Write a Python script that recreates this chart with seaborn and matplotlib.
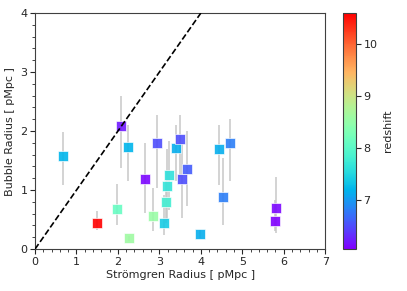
import numpy as np
import pandas as pd
import matplotlib
matplotlib.use("Agg")
import matplotlib.pyplot as plt
from matplotlib.ticker import MultipleLocator, FormatStrFormatter
import seaborn as sns

stromgren = [0.68, 2.07, 2.25, 1.97, 1.50, 2.26, 2.66, 2.84, 2.94, 3.12, 3.16, 3.18,
             3.23, 3.40, 3.49, 3.54, 3.67, 3.98, 4.43, 4.53, 4.71, 5.81, 5.79]
bubble = [1.57, 2.08, 1.73, 0.68, 0.44, 0.18, 1.19, 0.56, 1.79, 0.44, 0.79, 1.07,
          1.25, 1.72, 1.86, 1.18, 1.36, 0.25, 1.69, 0.88, 1.79, 0.69, 0.48]
bubble_hi = [1.99, 2.59, 2.11, 1.10, 0.65, 0.22, 1.80, 1.03, 2.28, 0.92, 1.15, 1.70,
             1.83, 2.11, 2.28, 1.80, 2.00, 0.32, 2.11, 1.54, 2.21, 1.23, 0.84]
bubble_lo = [1.09, 1.37, 1.15, 0.40, 0.32, 0.14, 0.61, 0.30, 1.03, 0.24, 0.45, 0.50,
             0.67, 1.15, 1.23, 0.53, 0.73, 0.18, 1.09, 0.41, 1.15, 0.27, 0.30]
redshift = [7.2, 6.2, 7.2, 8.1, 10.6, 8.6, 6.1, 8.55, 6.5, 7.4, 7.8, 7.65,
            7.6, 7.15, 6.5, 6.5, 6.6, 7.15, 7.15, 6.8, 6.8, 6.1, 6.05]

df = pd.DataFrame({"x": stromgren, "y": bubble, "z": redshift,
                   "lo": bubble_lo, "hi": bubble_hi})

sns.set_style("ticks")
plt.rcParams['font.family'] = ['DejaVu Sans']

fig = plt.figure(figsize=(4.07, 2.91), dpi=100)
ax = fig.add_axes([0.086, 0.144, 0.713, 0.811])
cax = fig.add_axes([0.843, 0.144, 0.031, 0.811])

ax.vlines(df["x"], df["lo"], df["hi"], color="#c4c4c4", lw=1.3, alpha=0.8, zorder=1)
vmin, vmax = min(redshift), max(redshift)
sns.scatterplot(data=df, x="x", y="y", hue="z", palette="rainbow",
                hue_norm=(vmin, vmax), marker="s", s=52, alpha=0.9,
                edgecolor="white", linewidth=0.5, legend=False, ax=ax, zorder=2)
ax.plot([0, 4], [0, 4], ls="--", color="black", lw=1.2, zorder=3)

ax.set_xlim(0, 7)
ax.set_ylim(0, 4)
ax.xaxis.set_major_locator(MultipleLocator(1))
ax.yaxis.set_major_locator(MultipleLocator(1))
ax.xaxis.set_minor_locator(MultipleLocator(0.2))
ax.yaxis.set_minor_locator(MultipleLocator(0.2))
ax.xaxis.set_major_formatter(FormatStrFormatter('%d'))
ax.yaxis.set_major_formatter(FormatStrFormatter('%d'))
ax.tick_params(which='major', labelsize=8, length=3.5, width=0.8, pad=2)
ax.tick_params(which='minor', length=2, width=0.6)
ax.set_xlabel("Strömgren Radius [ pMpc ]", fontsize=8, labelpad=2)
ax.set_ylabel("Bubble Radius [ pMpc ]", fontsize=8, labelpad=4)
for s in ax.spines.values():
    s.set_visible(True)
    s.set_color("#404040")

sm = plt.cm.ScalarMappable(cmap="rainbow", norm=plt.Normalize(vmin, vmax))
cb = fig.colorbar(sm, cax=cax)
cb.set_ticks([7, 8, 9, 10])
cb.ax.tick_params(labelsize=8, length=3.5, width=0.8, pad=2)
cb.set_label("redshift", fontsize=8)
cb.outline.set_edgecolor("#404040")

fig.savefig("out.png", dpi=100)
